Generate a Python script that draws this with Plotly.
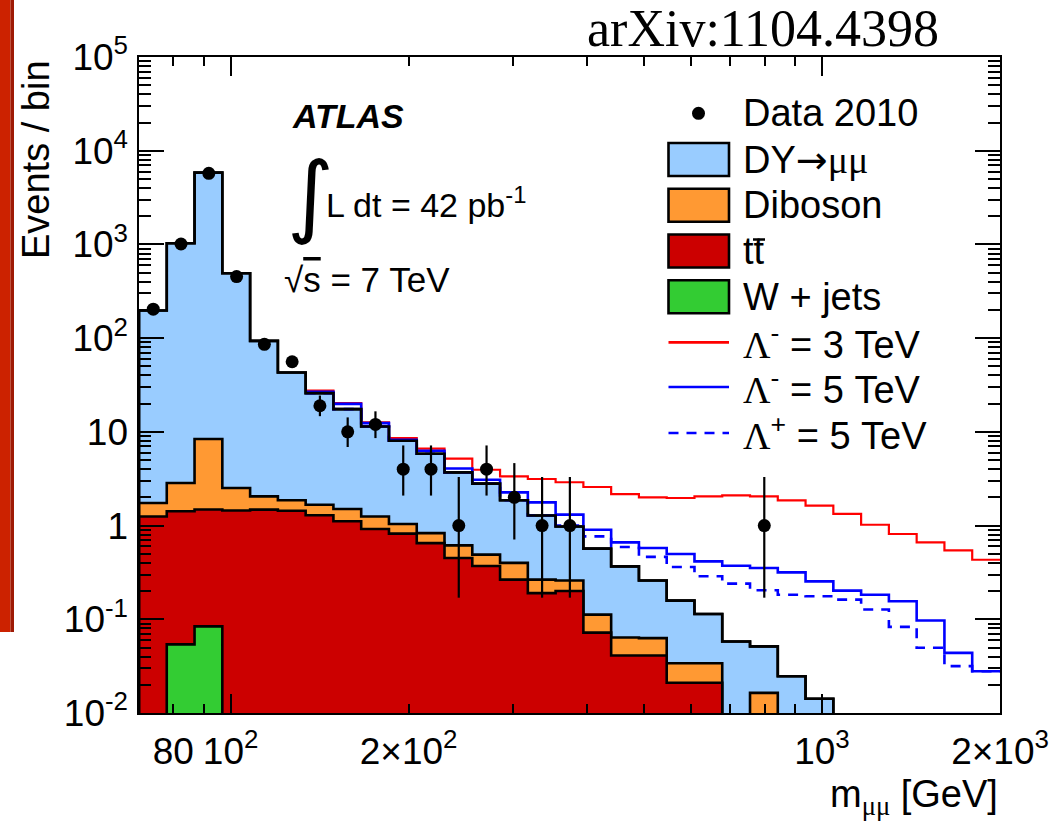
import plotly.graph_objects as go
import math

# ---------------- data ----------------
bin_edges = [70.0, 77.99, 86.90, 96.83, 107.89, 120.21, 133.94, 149.23, 166.27, 185.26,
             206.42, 229.99, 256.26, 285.52, 318.13, 354.46, 394.94, 440.04, 490.30, 546.29,
             608.68, 678.19, 755.64, 841.94, 938.09, 1045.2, 1164.6, 1297.6, 1445.8, 1610.9,
             1794.9, 2000.0]

wjets = [0, 0.054, 0.084, 0, 0, 0, 0, 0, 0, 0, 0, 0, 0, 0, 0, 0,
         0, 0, 0, 0, 0, 0, 0, 0, 0, 0, 0, 0, 0, 0, 0]
ttbar = [1.25, 1.37, 1.40, 1.45, 1.48, 1.44, 1.29, 1.11, 0.92, 0.82, 0.65, 0.45, 0.37, 0.265,
         0.19, 0.20, 0.072, 0.041, 0.041, 0.021, 0.021, 0, 0, 0, 0, 0, 0, 0, 0, 0, 0]
diboson = [0.49, 1.42, 6.90, 1.07, 0.57, 0.42, 0.38, 0.39, 0.33, 0.22, 0.18, 0.165, 0.12,
           0.135, 0.075, 0.059, 0.040, 0.023, 0.022, 0.013, 0.013, 0, 0.0164, 0, 0, 0, 0, 0,
           0, 0, 0]
dy = [195.3, 1027, 5822, 490.5, 91.4, 41.1, 24.2, 16.0, 10.15, 7.0, 5.01, 3.08, 2.31, 1.46,
      1.015, 0.72, 0.456, 0.303, 0.196, 0.124, 0.080, 0.058, 0.035, 0.0247, 0.0142, 0, 0, 0,
      0, 0, 0]

lam3_minus = [None] * 6 + [27.5, 20.3, 12.6, 8.59, 6.61, 5.17, 3.94, 3.35, 3.14, 2.90, 2.58,
                           2.17, 2.00, 1.97, 2.05, 2.10, 2.05, 1.86, 1.63, 1.33, 1.02, 0.813,
                           0.662, 0.544, 0.432]
lam5_minus = [None] * 6 + [26.8, 19.9, 12.4, 8.24, 6.29, 4.07, 3.08, 2.26, 1.77, 1.31, 0.904,
                           0.662, 0.577, 0.498, 0.415, 0.373, 0.353, 0.317, 0.254, 0.202,
                           0.183, 0.156, 0.0969, 0.0438, 0.0279]
lam5_plus = [None] * 6 + [25.9, 17.5, 11.4, 8.04, 5.84, 3.69, 2.80, 1.86, 1.28, 1.0, 0.767,
                          0.591, 0.463, 0.362, 0.288, 0.240, 0.204, 0.183, 0.176, 0.162,
                          0.127, 0.083, 0.0496, 0.0316, 0.0279]

data_counts = [204, 1010, 5740, 454, 86, 56, 19, 10, 12, 4, 4, 1, 4, 2, 1, 1,
               0, 0, 0, 0, 0, 0, 1, 0, 0, 0, 0, 0, 0, 0, 0]
data_err_lo = [14.2, 31.7, 75.7, 21.3, 9.2, 7.4, 4.3, 3.11, 3.42, 1.91, 1.91, 0.83, 1.91,
               1.29, 0.83, 0.83, 0, 0, 0, 0, 0, 0, 0.83, 0, 0, 0, 0, 0, 0, 0, 0]
data_err_hi = [15.3, 32.8, 76.8, 22.3, 10.3, 8.5, 5.4, 4.27, 4.56, 3.16, 3.16, 2.30, 3.16,
               2.64, 2.30, 2.30, 0, 0, 0, 0, 0, 0, 2.30, 0, 0, 0, 0, 0, 0, 0, 0]

x_label_vals = [80, 100, 200, 1000, 2000]
x_label_text = ["80", "10<sup>2</sup>", "2×10<sup>2</sup>", "10<sup>3</sup>", "2×10<sup>3</sup>"]
x_major_vals = [100, 1000]
x_minor_vals = [80, 90, 200, 300, 400, 500, 600, 700, 800, 900]
y_major_vals = [0.01, 0.1, 1, 10, 100, 1000, 10000, 100000]
y_major_text = ["10<sup>-2</sup>", "10<sup>-1</sup>", "1", "10", "10<sup>2</sup>",
                "10<sup>3</sup>", "10<sup>4</sup>", "10<sup>5</sup>"]
y_minor_vals = [m * 10.0 ** k for k in range(-2, 5) for m in range(2, 10)]

C_DY, C_DIB, C_TT, C_W = "#99ccff", "#ff9933", "#cc0000", "#33cc33"

# ---------------- layout geometry ----------------
W, H = 1062, 830
ML, MR, MT, MB = 139, 62, 57, 117
PW, PH = W - ML - MR, H - MT - MB


def px(x):
    return (x - ML) / PW


def py(y):
    return 1 - (y - MT) / PH


FLOOR = 1e-4


def step_polygon(edges, vals):
    xs, ys = [edges[0]], [FLOOR]
    for i, v in enumerate(vals):
        v = max(v, FLOOR)
        xs += [edges[i], edges[i + 1]]
        ys += [v, v]
    xs.append(edges[-1])
    ys.append(FLOOR)
    return xs, ys


n = len(dy)
lvl_w = list(wjets)
lvl_tt = [lvl_w[i] + ttbar[i] for i in range(n)]
lvl_dib = [lvl_tt[i] + diboson[i] for i in range(n)]
lvl_tot = [lvl_dib[i] + dy[i] for i in range(n)]

fig = go.Figure()

for lvl, col, name in [(lvl_tot, C_DY, "DY→μμ"), (lvl_dib, C_DIB, "Diboson"),
                       (lvl_tt, C_TT, "tt̄"), (lvl_w, C_W, "W + jets")]:
    xs, ys = step_polygon(bin_edges, lvl)
    fig.add_trace(go.Scatter(x=xs, y=ys, mode="lines", fill="toself", fillcolor=col,
                             line=dict(color="black", width=2.6), name=name,
                             showlegend=False, hoverinfo="skip"))


def sig_trace(vals, color, width, dash, name):
    idx = [i for i, v in enumerate(vals) if v is not None]
    i0 = idx[0]
    xs = bin_edges[i0:]
    ys = vals[i0:] + [vals[-1]]
    return go.Scatter(x=xs, y=ys, mode="lines", line=dict(color=color, width=width, dash=dash,
                                                          shape="hv"),
                      name=name, showlegend=False, hoverinfo="skip")


fig.add_trace(sig_trace(lam3_minus, "#ff0000", 2.2, "solid", "Λ- = 3 TeV"))
fig.add_trace(sig_trace(lam5_minus, "#0000ff", 2.6, "solid", "Λ- = 5 TeV"))
fig.add_trace(sig_trace(lam5_plus, "#0000ff", 2.6, "10px,8px", "Λ+ = 5 TeV"))

# redraw top outline of the stack
xs, ys = step_polygon(bin_edges, lvl_tot)
fig.add_trace(go.Scatter(x=xs, y=ys, mode="lines", line=dict(color="black", width=2.6),
                         showlegend=False, hoverinfo="skip"))

# data points
dx, dyv, elo, ehi = [], [], [], []
for i, c in enumerate(data_counts):
    if c > 0:
        dx.append(0.5 * (bin_edges[i] + bin_edges[i + 1]))
        dyv.append(c)
        elo.append(data_err_lo[i])
        ehi.append(data_err_hi[i])
fig.add_trace(go.Scatter(x=dx, y=dyv, mode="markers", xaxis="x2", yaxis="y2",
                         marker=dict(color="black", size=13, symbol="circle"),
                         error_y=dict(type="data", symmetric=False, array=ehi, arrayminus=elo,
                                      color="black", thickness=2.2, width=0),
                         name="Data 2010", showlegend=False, hoverinfo="skip"))

FONT = "Liberation Sans, Arial, sans-serif"
xr = [math.log10(bin_edges[0]), math.log10(bin_edges[-1])]
yr = [-2, 5]

fig.update_layout(
    width=W, height=H, autosize=False,
    margin=dict(l=ML, r=MR, t=MT, b=MB, pad=0, autoexpand=False),
    paper_bgcolor="white", plot_bgcolor="white",
    showlegend=False,
    font=dict(family=FONT, color="black", size=34),
    xaxis=dict(type="log", range=xr, showgrid=False, zeroline=False, automargin=False,
               showline=True, linecolor="black", linewidth=2, mirror="ticks",
               ticks="inside", ticklen=19, tickwidth=2, tickcolor="black",
               tickmode="array", tickvals=x_major_vals, showticklabels=False,
               minor=dict(tickmode="array", tickvals=x_minor_vals, ticks="inside",
                          ticklen=9, tickwidth=2, tickcolor="black", showgrid=False)),
    xaxis2=dict(type="log", range=xr, overlaying="x", anchor="y", side="bottom",
                automargin=False,
                showgrid=False, zeroline=False, showline=False, ticks="",
                tickmode="array", tickvals=x_label_vals, ticktext=x_label_text,
                tickfont=dict(family=FONT, size=37), ticklabelstandoff=13),
    yaxis=dict(type="log", range=yr, showgrid=False, zeroline=False, automargin=False,
               showline=True, linecolor="black", linewidth=2, mirror="ticks",
               ticks="inside", ticklen=25, tickwidth=2, tickcolor="black",
               tickmode="array", tickvals=y_major_vals, showticklabels=False,
               minor=dict(tickmode="array", tickvals=y_minor_vals, ticks="inside",
                          ticklen=12, tickwidth=2, tickcolor="black", showgrid=False)),
    yaxis2=dict(type="log", range=yr, overlaying="y", anchor="free", position=0,
                side="left", automargin=False,
                showgrid=False, zeroline=False, showline=False, ticks="",
                tickmode="array", tickvals=y_major_vals, ticktext=y_major_text,
                tickfont=dict(family=FONT, size=37), ticklabelstandoff=11),
)

shapes = []
annots = []

# red strip at far left
shapes.append(dict(type="rect", xref="paper", yref="paper", x0=px(0), x1=px(10.5),
                   y0=py(632), y1=py(0), fillcolor="#cc2200", line=dict(width=0),
                   layer="above"))
shapes.append(dict(type="rect", xref="paper", yref="paper", x0=px(10.5), x1=px(14),
                   y0=py(632), y1=py(0), fillcolor="#9e1a05", line=dict(width=0),
                   layer="above"))

# legend
rows = [113.3, 159.5, 205.2, 251.0, 296.7, 342.4, 387.0, 433.0]
lx0, lx1 = 668.5, 729.0
bh = 16.5
shapes.append(dict(type="circle", xref="paper", yref="paper",
                   x0=px(698.5 - 6.5), x1=px(698.5 + 6.5), y0=py(rows[0] + 6.5),
                   y1=py(rows[0] - 6.5), fillcolor="black", line=dict(width=0)))
for r, col in zip(rows[1:5], [C_DY, C_DIB, C_TT, C_W]):
    shapes.append(dict(type="rect", xref="paper", yref="paper", x0=px(lx0), x1=px(lx1),
                       y0=py(r + bh), y1=py(r - bh), fillcolor=col,
                       line=dict(color="black", width=2.6)))
for r, col, dash in zip(rows[5:], ["#ff0000", "#0000ff", "#0000ff"],
                        ["solid", "solid", "10px,8px"]):
    shapes.append(dict(type="line", xref="paper", yref="paper", x0=px(lx0), x1=px(lx1),
                       y0=py(r), y1=py(r), line=dict(color=col, width=2.6, dash=dash)))
# bar over the second t of "tt"
shapes.append(dict(type="line", xref="paper", yref="paper", x0=px(753), x1=px(765),
                   y0=py(239.5), y1=py(239.5), line=dict(color="black", width=2.5)))

SERIF = "Liberation Serif, Times New Roman, serif"
legend_texts = [
    "Data 2010",
    "DY<span style='font-family:DejaVu Sans'>→</span><span style='font-family:%s'>μμ</span>" % SERIF,
    "Diboson",
    "tt",
    "W + jets",
    "<span style='font-family:%s'>Λ</span><sup>-</sup> = 3 TeV" % SERIF,
    "<span style='font-family:%s'>Λ</span><sup>-</sup> = 5 TeV" % SERIF,
    "<span style='font-family:%s'>Λ</span><sup>+</sup> = 5 TeV" % SERIF,
]
for r, t in zip(rows, legend_texts):
    annots.append(dict(text=t, xref="paper", yref="paper", x=px(741), y=py(r),
                       xanchor="left", yanchor="middle", showarrow=False,
                       font=dict(family=FONT, size=38, color="black")))

# ATLAS labels
annots.append(dict(text="<b><i>ATLAS</i></b>", xref="paper", yref="paper", x=px(290),
                   y=py(116), xanchor="left", yanchor="middle", showarrow=False,
                   font=dict(family=FONT, size=34, color="black")))
annots.append(dict(text="∫", xref="paper", yref="paper", x=px(285), y=py(194),
                   xanchor="left", yanchor="middle", showarrow=False,
                   font=dict(family="DejaVu Sans", size=90, color="black")))
annots.append(dict(text="L dt = 42 pb<sup>-1</sup>", xref="paper", yref="paper", x=px(324),
                   y=py(203), xanchor="left", yanchor="middle", showarrow=False,
                   font=dict(family=FONT, size=34, color="black")))
annots.append(dict(text="√<span style='text-decoration:overline'>s</span> = 7 TeV",
                   xref="paper", yref="paper", x=px(282), y=py(279), xanchor="left",
                   yanchor="middle", showarrow=False,
                   font=dict(family=FONT, size=35, color="black")))

# axis titles
annots.append(dict(text="Events / bin", xref="paper", yref="paper", x=px(36), y=py(160),
                   xanchor="center", yanchor="middle", textangle=-90, showarrow=False,
                   font=dict(family=FONT, size=38, color="black")))
annots.append(dict(text="m<sub><span style='font-family:%s'>μμ</span></sub> [GeV]" % SERIF,
                   xref="paper", yref="paper", x=px(1000), y=py(797), xanchor="right",
                   yanchor="middle", showarrow=False,
                   font=dict(family=FONT, size=38, color="black")))

# arXiv tag
annots.append(dict(text="arXiv:1104.4398", xref="paper", yref="paper", x=px(763), y=py(29),
                   xanchor="center", yanchor="middle", showarrow=False,
                   font=dict(family=SERIF, size=52, color="black")))

fig.update_layout(shapes=shapes, annotations=annots)

fig.write_html("out.html", config={"displayModeBar": False},
               post_script="document.body.style.margin='0';")
